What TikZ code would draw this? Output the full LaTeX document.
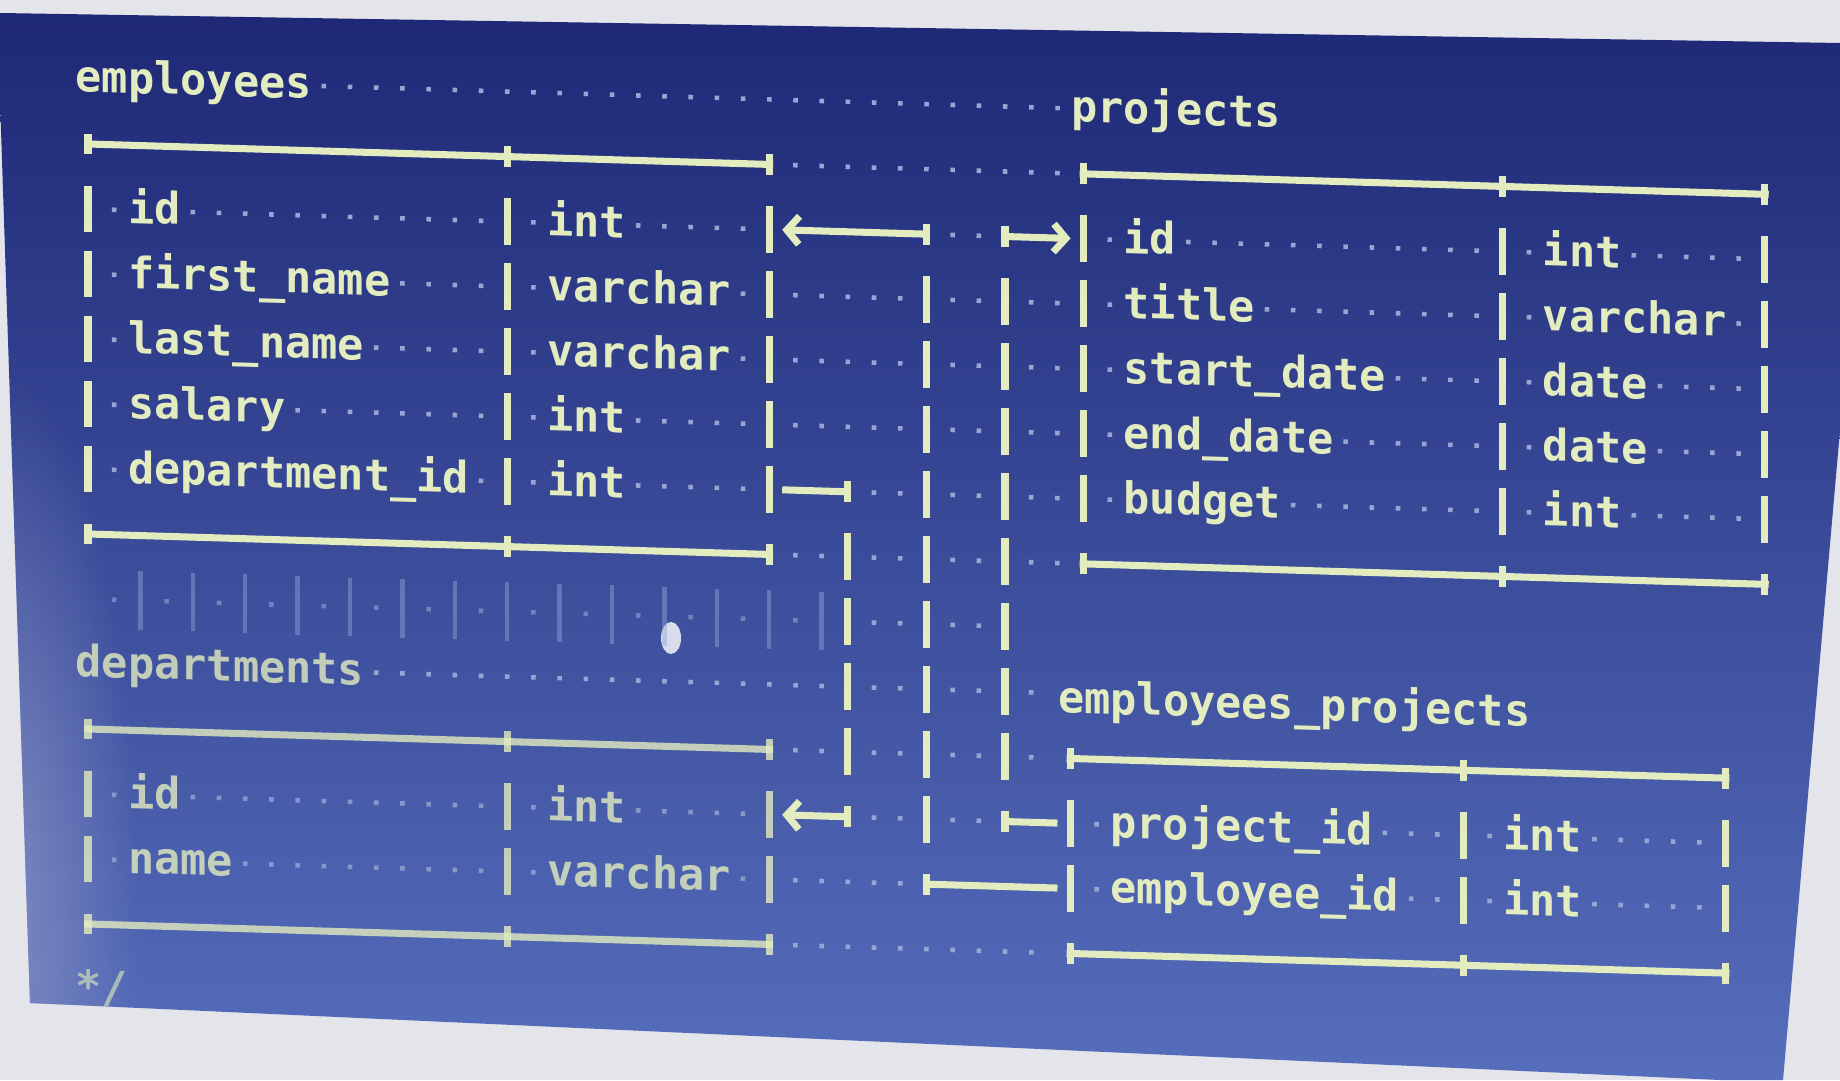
\documentclass[tikz,border=0pt]{standalone}
\usepackage{fontspec}
\setmonofont{DejaVu Sans Mono}
\usepackage{tikz}
\usetikzlibrary{arrows.meta,fadings}
\definecolor{paper}{RGB}{228,229,234}
\definecolor{scrtop}{RGB}{30,40,118}
\definecolor{scrmid}{RGB}{40,54,142}
\definecolor{scrbot}{RGB}{86,110,188}
\definecolor{glare}{RGB}{140,148,196}
\definecolor{ink}{RGB}{226,236,190}
\definecolor{wsdot}{RGB}{150,165,212}
\tikzfading[name=glarefade, inner color=transparent!0, outer color=transparent!100]
\newcommand{\screenedge}{(0,-0.13) -- (18.4,-0.43) -- (18.4,-4.3) -- (17.83,-10.8)
  -- (17.2,-10.8) -- (0.3,-10.03) -- (0,-1.0) -- cycle}

\begin{document}
\begin{tikzpicture}
  % schermo fotografato
  \useasboundingbox (0,0) rectangle (18.4,-10.8);
  \fill[paper] (0,0) rectangle (18.4,-10.8);
  \shade[top color=scrtop, middle color=scrmid, bottom color=scrbot] \screenedge;
  \begin{scope}
    \clip \screenedge;
    \fill[glare, path fading=glarefade, fill opacity=0.8] (0,-9.2) ellipse [x radius=1.4, y radius=5.5];
  \end{scope}
  \fill[white, opacity=0.8] (6.71,-6.38) ellipse [x radius=0.1, y radius=0.16];
  \begin{scope}[
      shift={(0.88,-0.79)}, x=0.262cm, y=-0.65cm, yslant=-0.03, transform shape,
      >={Straight Barb[length=3.5pt,width=8pt]},
      every node/.style={inner sep=0pt, text=ink,
                         font=\ttfamily\bfseries\fontsize{12.4}{14}\selectfont},
      cell/.style={anchor=base west},
      rowbox/.style={anchor=center, minimum height=0.3cm},
      rule/.style={draw=ink, line width=2pt},
      link/.style={draw=ink, line width=2pt},
      pipe/.style={link, dash pattern=on 13.32pt off 5.18pt,
                   shorten <=11.84pt, shorten >=11.84pt},
      ws/.style={draw=wsdot, line width=1.3pt,
                 dash pattern=on 0pt off 3.08pt on 1.3pt off 3.08pt},
      ghost/.style={draw=wsdot, line width=1.2pt, opacity=0.45}
    ]
    % titoli
    \node[cell] (emp) at (-0.5,0.2) {employees};
    \node[cell] (prj) at (37.5,0.2) {projects};
    \node[cell, opacity=0.8] (dep) at (-0.5,9.2) {departments};
    \node[cell] (ep) at (37,9.3) {employees\_projects};
    \node[cell, opacity=0.6] (eot) at (-0.5,14.2) {*/};

    % campi
    \foreach \k/\fld/\typ/\nlen/\tlen [count=\row from 2] in {id/id/int/2/3,
        fname/first\_name/varchar/10/7, lname/last\_name/varchar/9/7,
        sal/salary/int/6/3, dep/department\_id/int/13/3}{
      \node[rowbox, minimum width=6.812cm] (emp-\k) at (13,\row) {};
      \node[cell] (emp-\k-n) at (1.5,\row+0.2) {\fld};
      \node[cell] (emp-\k-t) at (17.5,\row+0.2) {\typ};
      \draw[ws] (0.5,\row) -- (1.5,\row) (1.5+\nlen,\row) -- (15.5,\row)
                (16.5,\row) -- (17.5,\row) (17.5+\tlen,\row) -- (25.5,\row);
    }
    \foreach \k/\fld/\typ/\nlen/\tlen [count=\row from 2] in {id/id/int/2/3,
        title/title/varchar/5/7, start/start\_date/date/10/4,
        end/end\_date/date/8/4, budget/budget/int/6/3}{
      \node[rowbox, minimum width=6.812cm] (prj-\k) at (51,\row) {};
      \node[cell] (prj-\k-n) at (39.5,\row+0.2) {\fld};
      \node[cell] (prj-\k-t) at (55.5,\row+0.2) {\typ};
      \draw[ws] (38.5,\row) -- (39.5,\row) (39.5+\nlen,\row) -- (53.5,\row)
                (54.5,\row) -- (55.5,\row) (55.5+\tlen,\row) -- (63.5,\row);
    }
    \begin{scope}[opacity=0.8]
      \foreach \k/\fld/\typ/\nlen/\tlen [count=\row from 11] in {id/id/int/2/3,
          name/name/varchar/4/7}{
        \node[rowbox, minimum width=6.812cm] (dep-\k) at (13,\row) {};
        \node[cell] (dep-\k-n) at (1.5,\row+0.2) {\fld};
        \node[cell] (dep-\k-t) at (17.5,\row+0.2) {\typ};
        \draw[ws] (0.5,\row) -- (1.5,\row) (1.5+\nlen,\row) -- (15.5,\row)
                  (16.5,\row) -- (17.5,\row) (17.5+\tlen,\row) -- (25.5,\row);
      }
    \end{scope}
    \begin{scope}[xshift=-0.5*0.262cm]
      \foreach \k/\fld/\nlen [count=\row from 11] in {pid/project\_id/10, eid/employee\_id/11}{
        \node[rowbox, minimum width=6.55cm] (ep-\k) at (50.5,\row) {};
        \node[cell] (ep-\k-n) at (39.5,\row+0.2) {\fld};
        \node[cell] (ep-\k-t) at (54.5,\row+0.2) {int};
        \draw[ws] (38.5,\row) -- (39.5,\row) (39.5+\nlen,\row) -- (52.5,\row)
                  (53.5,\row) -- (54.5,\row) (57.5,\row) -- (62.5,\row);
      }
    \end{scope}

    % cornici delle tabelle
    \foreach \x/\m/\w/\fr/\lr/\op in {0/16/26/2/6/1, 38/16/26/2/6/1,
        0/16/26/11/12/0.8, 37.5/15/25/11/12/1}{
      \draw[rule, opacity=\op] (\x-0.15,\fr-1) -- (\x+\w+0.15,\fr-1)
                               (\x-0.15,\lr+1) -- (\x+\w+0.15,\lr+1);
      \foreach \cc in {\x,\x+\m,\x+\w}{
        \draw[rule, opacity=\op] (\cc,\fr-1.16) -- (\cc,\fr-0.84)
                                 (\cc,\lr+0.84) -- (\cc,\lr+1.16);
        \foreach \row in {\fr,...,\lr}
          \draw[rule, opacity=\op] (\cc,\row-0.36) -- (\cc,\row+0.36);
      }
    }

    % spazi visibili fuori dalle tabelle
    \foreach \row/\ca/\cb in {0/9/37, 1/27/37, 2/33/34, 3/27/31, 3/33/34, 3/36/37,
        4/27/31, 4/33/34, 4/36/37, 5/27/31, 5/33/34, 5/36/37, 6/30/31, 6/33/34,
        6/36/37, 7/27/28, 7/30/31, 7/33/34, 7/36/37, 8/30/31, 8/33/34, 9/11/28,
        9/30/31, 9/33/34, 9/36/36, 10/27/28, 10/30/31, 10/33/34, 10/36/36,
        11/30/31, 11/33/34, 12/27/31, 13/27/36}
      \draw[ws] (\ca-0.5,\row) -- (\cb+0.5,\row);
    \foreach \cc in {2,4,...,28}
      \draw[ghost] (\cc,7.55) -- (\cc,8.45);
    \foreach \cc in {1,3,...,27}
      \draw[ws, opacity=0.6] (\cc-0.5,8) -- (\cc+0.5,8);

    % relazioni
    \coordinate (j1) at (32,2);  \coordinate (j1b) at (32,12);
    \coordinate (j2) at (35,2);  \coordinate (j2b) at (35,11);
    \coordinate (j3) at (29,6);  \coordinate (j3b) at (29,11);
    \draw[link, <-, shorten <=3.5pt] (emp-id.east) -- (j1);
    \draw[pipe] (j1) -- (j1b);
    \draw[link, shorten >=3.5pt] (j1b) -- (ep-eid.west);
    \draw[link, ->, shorten >=3.5pt] (j2) -- (prj-id.west);
    \draw[pipe] (j2) -- (j2b);
    \draw[link, shorten >=3.5pt] (j2b) -- (ep-pid.west);
    \draw[link, shorten <=3.5pt] (emp-dep.east) -- (j3);
    \draw[pipe] (j3) -- (j3b);
    \draw[link, <-, shorten <=3.5pt] (dep-id.east) -- (j3b);
    \foreach \j in {j1,j1b,j2,j2b,j3,j3b}
      \draw[rule] (\j) ++(0,-0.16) -- ++(0,0.32);
  \end{scope}
\end{tikzpicture}
\end{document}
